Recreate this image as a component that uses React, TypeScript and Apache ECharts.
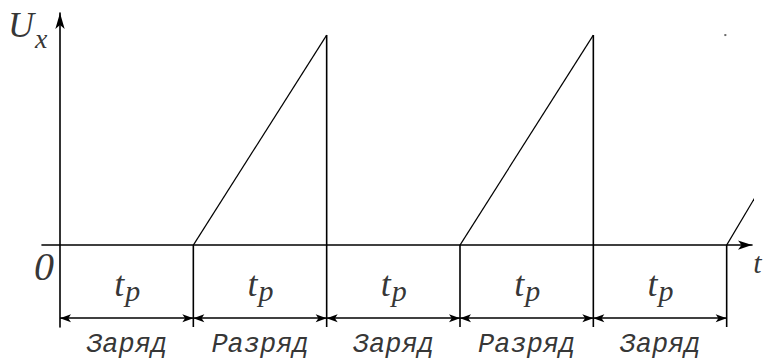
import React, { useEffect, useRef } from "react";
import * as echarts from "echarts";

// Time axis in units of t_p, voltage in units of the peak value
const boundaries = [0, 1, 2, 3, 4, 5];
const phases = ["Заряд", "Разряд", "Заряд", "Разряд", "Заряд"];
const peakTimes = [2, 4];
const peakValue = 1;
const tailRamp = [
  [5, 0],
  [5.21, 0.224],
];
const strayDot = [[4.99, 1.0]];
const intervalSymbol = ["t", "p"];
const axisSymbols = { origin: "0", value: ["U", "x"], time: "t" };

const X_MIN = -0.135;
const X_MAX = 5.19;
const Y_MIN = -0.39;
const Y_MAX = 1.105;
const DIM_LEVEL = -0.348;
const TP_LEVEL = -0.186;
const PHASE_LEVEL = -0.474;

const INK = "#000";
const SERIF = "'Liberation Serif', 'Times New Roman', serif";
const MONO = "'Liberation Mono', 'Courier New', monospace";

export default function App() {
  const ref = useRef<HTMLDivElement>(null);

  useEffect(() => {
    if (!ref.current) return;
    const chart = echarts.init(ref.current, null, { renderer: "svg" });

    const lineSeries = (data: number[][], width = 1.6) => ({
      type: "line",
      data,
      symbol: "none",
      clip: false,
      silent: true,
      lineStyle: { color: INK, width },
    });

    const series: any[] = [];
    peakTimes.forEach((p) => {
      series.push(lineSeries([[p - 1, 0], [p, peakValue]], 1.2));
      series.push(lineSeries([[p, peakValue], [p, Y_MIN]], 1.6));
    });
    boundaries
      .filter((b) => b !== 0 && !peakTimes.includes(b))
      .forEach((b) => series.push(lineSeries([[b, 0], [b, Y_MIN]], 1.6)));
    series.push(lineSeries(tailRamp, 1.2));

    // Dimension arrows
    series.push({
      type: "line",
      data: [],
      silent: true,
      markLine: {
        silent: true,
        symbol: ["arrow", "arrow"],
        symbolSize: [6, 11],
        label: { show: false },
        lineStyle: { color: INK, width: 1.6, type: "solid" },
        data: phases.map((_, i) => [
          { coord: [boundaries[i], DIM_LEVEL] },
          { coord: [boundaries[i + 1], DIM_LEVEL] },
        ]),
      },
    });

    const textStyle = (fontSize: number, family = SERIF) => ({
      fontFamily: family,
      fontStyle: "italic",
      fontSize,
      color: INK,
    });

    // t_p labels: main letter + subscript, side by side around each interval centre
    const tpData: any[] = [];
    phases.forEach((_, i) => {
      const cx = (boundaries[i] + boundaries[i + 1]) / 2;
      tpData.push({
        value: [cx, TP_LEVEL],
        name: intervalSymbol[0],
        label: { ...textStyle(36), align: "right", offset: [-2.5, 0] },
      });
      tpData.push({
        value: [cx, TP_LEVEL],
        name: intervalSymbol[1],
        label: { ...textStyle(30), align: "left", offset: [-1.5, 6] },
      });
    });
    series.push({
      type: "scatter",
      symbolSize: 0,
      clip: false,
      silent: true,
      data: tpData,
      label: { show: true, position: "inside", formatter: "{b}", verticalAlign: "middle" },
    });

    // Phase names
    series.push({
      type: "scatter",
      symbolSize: 0,
      clip: false,
      silent: true,
      data: phases.map((name, i) => ({
        value: [(boundaries[i] + boundaries[i + 1]) / 2, PHASE_LEVEL],
        name,
      })),
      label: {
        show: true,
        position: "inside",
        formatter: "{b}",
        ...textStyle(27, MONO),
      },
    });

    // Axis symbols: origin, U_x, t
    series.push({
      type: "scatter",
      symbolSize: 0,
      clip: false,
      silent: true,
      data: [
        { value: [-0.12, -0.1], name: axisSymbols.origin, label: { ...textStyle(40), align: "center" } },
        { value: [-0.39, 1.046], name: axisSymbols.value[0], label: { ...textStyle(36), align: "right", offset: [26, 0] } },
        { value: [-0.39, 0.985], name: axisSymbols.value[1], label: { ...textStyle(28), align: "left", offset: [27, 0] } },
        { value: [5.2, -0.083], name: axisSymbols.time, label: { ...textStyle(30), align: "left" } },
      ],
      label: { show: true, position: "inside", formatter: "{b}", verticalAlign: "middle" },
    });

    // tiny stray dot in the source drawing
    series.push({
      type: "scatter",
      symbol: "rect",
      symbolSize: 2,
      silent: true,
      clip: false,
      itemStyle: { color: "#444" },
      data: strayDot,
    });

    chart.setOption({
      animation: false,
      backgroundColor: "#fff",
      grid: { left: 42, right: 11, top: 13, bottom: 33, containLabel: false },
      xAxis: {
        type: "value",
        min: X_MIN,
        max: X_MAX,
        axisLine: {
          show: true,
          onZero: true,
          symbol: ["none", "arrow"],
          symbolSize: [7, 14],
          lineStyle: { color: INK, width: 1.6 },
        },
        axisTick: { show: false },
        axisLabel: { show: false },
        splitLine: { show: false },
      },
      yAxis: {
        type: "value",
        min: Y_MIN,
        max: Y_MAX,
        axisLine: {
          show: true,
          onZero: true,
          symbol: ["none", "arrow"],
          symbolSize: [7, 16],
          lineStyle: { color: INK, width: 1.6 },
        },
        axisTick: { show: false },
        axisLabel: { show: false },
        splitLine: { show: false },
      },
      series,
    });

    return () => chart.dispose();
  }, []);

  return (
    <div
      ref={ref}
      style={{ position: "absolute", left: 0, top: 0, width: 763, height: 360, background: "#fff" }}
    />
  );
}
